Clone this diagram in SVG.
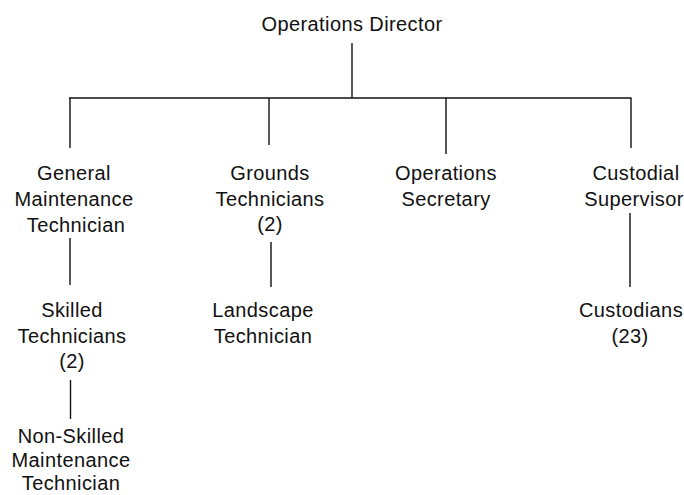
<svg xmlns="http://www.w3.org/2000/svg" width="684" height="495" viewBox="0 0 684 495">
<style>
text{font-family:"Liberation Sans",Arial,sans-serif;font-size:20px;letter-spacing:0.4px;fill:#111;text-anchor:middle}
.c line{stroke:#111;stroke-width:1.4}
</style>
<rect width="684" height="495" fill="#fff"/>
<g class="c" id="connectors">
<line x1="352" y1="43" x2="352" y2="98"/>
<line x1="69" y1="98" x2="631.5" y2="98"/>
<line x1="70" y1="98" x2="70" y2="148"/>
<line x1="269" y1="98" x2="269" y2="145"/>
<line x1="446" y1="98" x2="446" y2="154"/>
<line x1="631" y1="98" x2="631" y2="148"/>
<line x1="70" y1="238" x2="70" y2="285"/>
<line x1="271" y1="242" x2="271" y2="287"/>
<line x1="630" y1="213" x2="630" y2="287"/>
<line x1="70.5" y1="380" x2="70.5" y2="419"/>
</g>
<g id="director"><text x="352" y="31">Operations Director</text></g>
<g id="gmt"><text x="74" y="180">General</text><text x="74" y="206">Maintenance</text><text x="76" y="232">Technician</text></g>
<g id="grounds"><text x="270" y="180">Grounds</text><text x="270" y="206">Technicians</text><text x="270" y="231">(2)</text></g>
<g id="secretary"><text x="446" y="180">Operations</text><text x="446" y="206">Secretary</text></g>
<g id="custodial"><text x="636" y="180">Custodial</text><text x="634" y="206">Supervisor</text></g>
<g id="skilled"><text x="72" y="317">Skilled</text><text x="72" y="343">Technicians</text><text x="72" y="368">(2)</text></g>
<g id="landscape"><text x="263" y="317">Landscape</text><text x="263" y="343">Technician</text></g>
<g id="custodians"><text x="631" y="317">Custodians</text><text x="630" y="343">(23)</text></g>
<g id="nonskilled"><text x="71" y="443">Non-Skilled</text><text x="71" y="467">Maintenance</text><text x="71" y="490">Technician</text></g>
</svg>
